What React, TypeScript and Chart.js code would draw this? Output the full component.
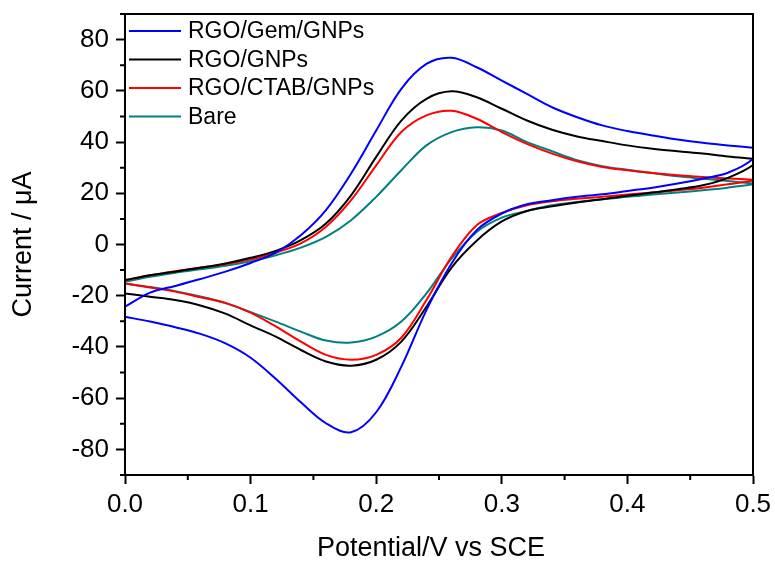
import { useEffect, useRef } from "react";
import { Chart, registerables } from "chart.js";

Chart.register(...registerables);

const seriesLabels = ["RGO/Gem/GNPs", "RGO/GNPs", "RGO/CTAB/GNPs", "Bare"];
const seriesColors = ["#0000ff", "#000000", "#ff0000", "#008080"];
const xAxisTitle = "Potential/V vs SCE";
const yAxisTitle = "Current / μA";

const potentialForward = [
  0, 0.02, 0.04, 0.06, 0.08, 0.1, 0.12, 0.14, 0.16, 0.18, 0.2, 0.22, 0.24,
  0.26, 0.28, 0.3, 0.32, 0.34, 0.36, 0.38, 0.4, 0.42, 0.44, 0.46, 0.48, 0.5,
];
const potentialReverse = [
  0.5, 0.48, 0.46, 0.44, 0.42, 0.4, 0.38, 0.36, 0.34, 0.32, 0.3, 0.28, 0.26,
  0.24, 0.22, 0.2, 0.18, 0.16, 0.14, 0.12, 0.1, 0.08, 0.06, 0.04, 0.02, 0,
];

const gemForward = [
  -24.3, -18.8, -16.2, -13.5, -10.6, -7.2, -3.2, 3.6, 13.4, 27.7, 44.5, 60.8,
  70.5, 72.9, 69.2, 64, 58.8, 53.6, 49.7, 46.5, 44.3, 42.6, 41, 39.7, 38.7, 37.8,
];
const gemReverse = [
  33.5, 28, 25.7, 23.8, 22.2, 20.9, 19.6, 18.6, 17.3, 15.7, 12.1, 5.6, -7.4,
  -25.6, -47.7, -65.5, -73.3, -69.8, -61.6, -52.4, -44.2, -38.6, -34.9, -32.3,
  -30.1, -28.2,
];

const gnpForward = [
  -13.9, -12, -10.6, -9.1, -7.4, -5.2, -2.5, 1.7, 8.2, 19.2, 34.2, 48.4, 56.9,
  59.8, 57.5, 53, 48.4, 44.8, 42.2, 40.4, 38.7, 37.4, 36.4, 35.5, 34.4, 33.5,
];
const gnpReverse = [
  31, 26, 23.1, 21.6, 20.3, 19, 17.7, 16.4, 14.9, 13.1, 9, 1.5, -9, -24.3,
  -37.9, -45, -47.3, -45.7, -41.2, -36, -31.6, -27, -23.8, -21.7, -20.4, -19.1,
];

const ctabForward = [
  -13.9, -12, -10.4, -9, -7.7, -5.8, -3.2, 0.4, 6.9, 17.3, 30.9, 43.9, 50.4,
  52.2, 49.1, 43.9, 39.3, 35.5, 32.5, 30.3, 29, 27.9, 27, 26.4, 25.8, 25.3,
];
const ctabReverse = [
  25, 23.5, 22.2, 21.2, 20.3, 19.5, 18.6, 17.9, 16.9, 15.3, 12.3, 7.5, -4.8,
  -21.7, -36.4, -43.1, -45, -43.1, -37.9, -32, -26.6, -22.8, -20.6, -18.4,
  -16.8, -15.2,
];

const bareForward = [
  -14.5, -12.6, -11, -9.7, -8.3, -6.5, -4.2, -1.2, 3, 9.5, 18.6, 29, 38.7, 43.9,
  45.8, 44.5, 40, 36.4, 32.9, 30.6, 29.2, 27.9, 26.6, 25.7, 24.8, 23.8,
];
const bareReverse = [
  23.5, 22.2, 21.2, 20.3, 19.5, 18.6, 17.7, 16.6, 15.3, 13.1, 10.5, 4.9, -5.5,
  -19.1, -30.1, -36, -38.3, -37.5, -34, -30.1, -26.4, -22.9, -20.3, -18.2,
  -16.6, -15.2,
];

const forwardSeries = [gemForward, gnpForward, ctabForward, bareForward];
const reverseSeries = [gemReverse, gnpReverse, ctabReverse, bareReverse];

const xMajorTicks = [0, 0.1, 0.2, 0.3, 0.4, 0.5];
const xMinorTicks = [0.05, 0.15, 0.25, 0.35, 0.45];
const yMajorTicks = [-80, -60, -40, -20, 0, 20, 40, 60, 80];
const yMinorTicks = [-90, -70, -50, -30, -10, 10, 30, 50, 70, 90];

const FONT = "'Liberation Sans', Arial, Helvetica, sans-serif";

const framePlugin = {
  id: "frameAndLegend",
  afterDatasetsDraw(chart: any) {
    const { ctx, chartArea: a, scales } = chart;
    ctx.save();
    ctx.strokeStyle = "#000";
    ctx.lineWidth = 2;
    ctx.strokeRect(a.left, a.top, a.right - a.left, a.bottom - a.top);
    ctx.beginPath();
    for (const v of yMinorTicks) {
      const y = scales.y.getPixelForValue(v);
      ctx.moveTo(a.left - 5, y);
      ctx.lineTo(a.left, y);
    }
    for (const v of xMinorTicks) {
      const x = scales.x.getPixelForValue(v);
      ctx.moveTo(x, a.bottom);
      ctx.lineTo(x, a.bottom + 5);
    }
    ctx.stroke();

    // x axis title
    ctx.fillStyle = "#000";
    ctx.font = `27px ${FONT}`;
    ctx.textAlign = "center";
    ctx.textBaseline = "middle";
    ctx.fillText(xAxisTitle, (a.left + a.right) / 2 - 8, scales.x.bottom - 14);

    // legend (one entry per series)
    ctx.font = `23px ${FONT}`;
    ctx.textBaseline = "middle";
    ctx.textAlign = "left";
    seriesLabels.forEach((label, i) => {
      const y = a.top + 17 + i * 28.5;
      ctx.strokeStyle = seriesColors[i];
      ctx.lineWidth = 2;
      ctx.beginPath();
      ctx.moveTo(a.left + 4, y);
      ctx.lineTo(a.left + 56, y);
      ctx.stroke();
      ctx.fillStyle = "#000";
      ctx.fillText(label, a.left + 63, y + 1);
    });
    ctx.restore();
  },
};

export default function App() {
  const ref = useRef<HTMLCanvasElement | null>(null);

  useEffect(() => {
    if (!ref.current) return;
    Chart.defaults.font.family = FONT;
    Chart.defaults.color = "#000";

    const datasets: any[] = [];
    seriesLabels.forEach((label, i) => {
      const common = {
        label,
        borderColor: seriesColors[i],
        backgroundColor: seriesColors[i],
        borderWidth: 2,
        pointRadius: 0,
        showLine: true,
        tension: 0.35,
        fill: false,
      };
      datasets.push({
        ...common,
        data: potentialForward.map((x, j) => ({ x, y: forwardSeries[i][j] })),
      });
      datasets.push({
        ...common,
        data: [{ x: 0.5, y: forwardSeries[i][forwardSeries[i].length - 1] }].concat(
          potentialReverse.map((x, j) => ({ x, y: reverseSeries[i][j] }))
        ),
      });
    });

    const chart = new Chart(ref.current, {
      type: "scatter",
      data: { datasets },
      plugins: [framePlugin],
      options: {
        animation: false,
        responsive: false,
        devicePixelRatio: 1,
        layout: { padding: { top: 14, right: 22, left: 0, bottom: 0 } },
        plugins: { legend: { display: false }, tooltip: { enabled: false } },
        scales: {
          x: {
            type: "linear",
            min: 0,
            max: 0.5,
            afterBuildTicks: (s: any) => {
              s.ticks = xMajorTicks.map((v) => ({ value: v }));
            },
            afterFit: (s: any) => {
              s.height = 88;
              s.paddingLeft = 0;
              s.paddingRight = 0;
            },
            ticks: {
              callback: (v: any) => Number(v).toFixed(1),
              font: { size: 26 },
              color: "#000",
              padding: 5,
              maxRotation: 0,
              autoSkip: false,
            },
            grid: {
              display: true,
              drawOnChartArea: false,
              drawTicks: true,
              tickLength: 9,
              tickColor: "#000",
              tickWidth: 2,
            },
            border: { display: true, color: "#000", width: 2 },
            title: { display: false },
          },
          y: {
            type: "linear",
            min: -90,
            max: 90,
            afterBuildTicks: (s: any) => {
              s.ticks = yMajorTicks.map((v) => ({ value: v }));
            },
            afterFit: (s: any) => {
              s.width = 125;
              s.paddingTop = 0;
              s.paddingBottom = 0;
            },
            ticks: {
              callback: (v: any) => String(v),
              font: { size: 26 },
              color: "#000",
              padding: 7,
              autoSkip: false,
            },
            grid: {
              display: true,
              drawOnChartArea: false,
              drawTicks: true,
              tickLength: 9,
              tickColor: "#000",
              tickWidth: 2,
            },
            border: { display: true, color: "#000", width: 2 },
            title: {
              display: true,
              text: yAxisTitle,
              font: { size: 27, lineHeight: 1.2 },
              color: "#000",
              padding: { top: 7, bottom: 0 },
            },
          },
        },
      },
    } as any);

    return () => chart.destroy();
  }, []);

  return (
    <canvas
      ref={ref}
      width={775}
      height={563}
      style={{ position: "fixed", left: 0, top: 0, display: "block" }}
    />
  );
}
